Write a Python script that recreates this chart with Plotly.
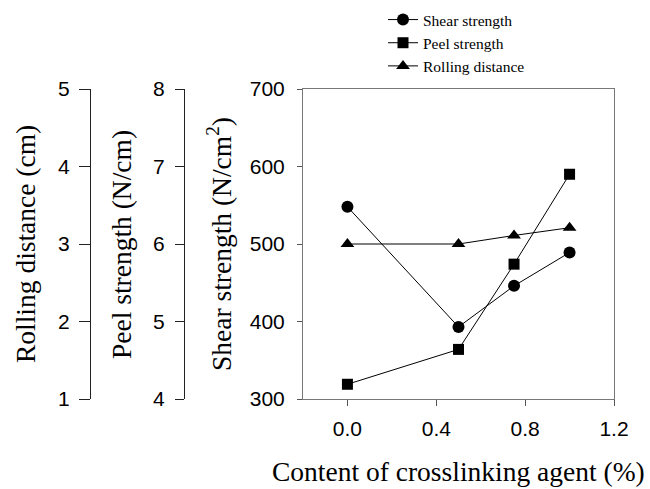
import plotly.graph_objects as go

# Crosslinking agent content (%)
content = [0.0, 0.5, 0.75, 1.0]
# Shear strength (N/cm^2)
shear = [548, 393, 446, 489]
# Peel strength (N/cm)
peel = [4.19, 4.64, 5.74, 6.90]
# Rolling distance (cm)
rolling = [3.0, 3.0, 3.11, 3.21]

x_ticks = [0.0, 0.4, 0.8, 1.2]
shear_ticks = [300, 400, 500, 600, 700]
peel_ticks = [4, 5, 6, 7, 8]
rolling_ticks = [1, 2, 3, 4, 5]

W, H = 650, 489
plot_left, plot_right = 303, 614
plot_top, plot_bottom = 89, 399
peel_axis_x = 184
rolling_axis_x = 90

sans = "Liberation Sans, Arial, sans-serif"
serif = "Liberation Serif, Times New Roman, serif"

fig = go.Figure()
line = dict(color="black", width=1)
fig.add_trace(go.Scatter(x=content, y=shear, name="Shear strength", mode="lines+markers",
                         line=line, marker=dict(symbol="circle", size=12, color="black"),
                         yaxis="y"))
fig.add_trace(go.Scatter(x=content, y=peel, name="Peel strength", mode="lines+markers",
                         line=line, marker=dict(symbol="square", size=11, color="black"),
                         yaxis="y2"))
fig.add_trace(go.Scatter(x=content, y=rolling, name="Rolling distance", mode="lines+markers",
                         line=line, marker=dict(symbol="triangle-up", size=12, color="black"),
                         yaxis="y3"))

ydom = [1 - plot_bottom / H, 1 - plot_top / H]
tickfont = dict(family=sans, size=21, color="black")

fig.update_layout(
    width=W, height=H,
    margin=dict(l=0, r=0, t=0, b=0, autoexpand=False),
    paper_bgcolor="white", plot_bgcolor="white",
    showlegend=True,
    legend=dict(x=383 / W, y=1 - 3 / H, xanchor="left", yanchor="top",
                font=dict(family=serif, size=15.5, color="black"),
                bgcolor="rgba(0,0,0,0)", tracegroupgap=0, itemwidth=30),
    xaxis=dict(domain=[plot_left / W, plot_right / W], range=[-0.2, 1.2],
               tickvals=x_ticks, ticktext=[f"{v:.1f}" for v in x_ticks],
               ticks="outside", ticklen=6, tickcolor="#555",
               showline=True, linecolor="#777", linewidth=1, mirror=True,
               showgrid=False, zeroline=False, tickfont=tickfont,
               ticklabelstandoff=5, automargin=False),
    yaxis=dict(domain=ydom, range=[300, 700], tickvals=shear_ticks,
               ticks="outside", ticklen=5, tickcolor="#555",
               showline=True, linecolor="#777", linewidth=1, mirror=True,
               showgrid=False, zeroline=False, tickfont=tickfont,
               ticklabelstandoff=8, automargin=False),
    yaxis2=dict(domain=ydom, range=[4, 8], tickvals=peel_ticks, overlaying="y",
                anchor="free", position=peel_axis_x / W, side="left",
                ticks="outside", ticklen=9, tickcolor="#222",
                showline=True, linecolor="#222", linewidth=1,
                showgrid=False, zeroline=False, tickfont=tickfont,
                ticklabelstandoff=6, automargin=False),
    yaxis3=dict(domain=ydom, range=[1, 5], tickvals=rolling_ticks, overlaying="y",
                anchor="free", position=rolling_axis_x / W, side="left",
                ticks="outside", ticklen=11, tickcolor="#222",
                showline=True, linecolor="#222", linewidth=1,
                showgrid=False, zeroline=False, tickfont=tickfont,
                ticklabelstandoff=5, automargin=False),
)

title_font = dict(family=serif, size=27.5, color="black")
ymid = 1 - (plot_top + plot_bottom) / 2 / H
annotations = [
    dict(text="Rolling distance (cm)", x=25 / W, y=ymid, textangle=-90),
    dict(text="Peel strength (N/cm)", x=121 / W, y=ymid, textangle=-90),
    dict(text="Shear strength (N/cm<sup>2</sup>)", x=219 / W, y=ymid, textangle=-90),
    dict(text="Content of crosslinking agent (%)", x=(plot_left + plot_right) / 2 / W,
         y=1 - 471 / H, textangle=0),
]
for a in annotations:
    fig.add_annotation(xref="paper", yref="paper", showarrow=False,
                       xanchor="center", yanchor="middle", font=title_font, **a)

fig.write_html("out.html")
